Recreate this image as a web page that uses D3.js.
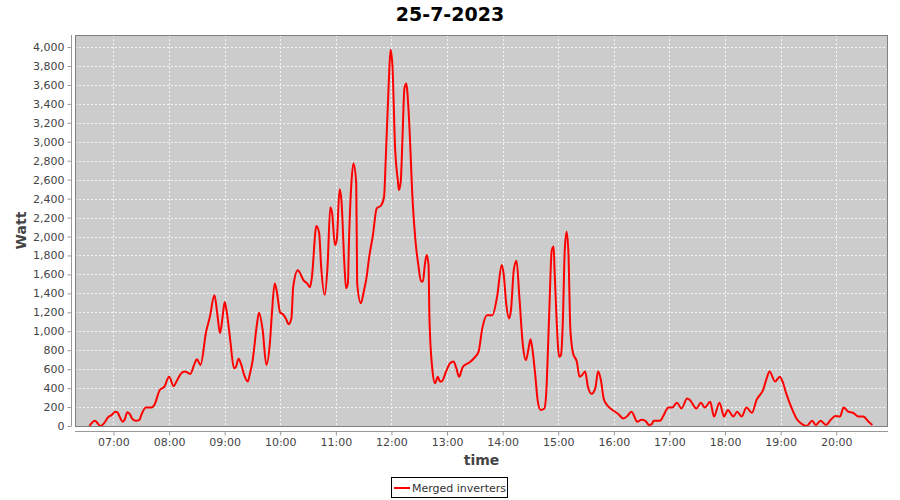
<!DOCTYPE html>
<html>
<head>
<meta charset="utf-8">
<script src="https://cdn.jsdelivr.net/npm/d3@7"></script>
<style>
html,body{margin:0;padding:0;background:#fff;}
svg{display:block;font-family:"DejaVu Sans",sans-serif;}
</style>
</head>
<body>
<svg id="chart" width="900" height="500"></svg>
<script>
const chartTitle = "25-7-2023";
const seriesName = "Merged inverters";
const xAxisLabel = "time";
const yAxisLabel = "Watt";
const dateStr = "2023-07-25";

const times = ["06:34","06:40","06:46","06:51","06:54","06:58","07:02","07:04","07:10","07:12","07:15","07:18","07:20","07:24","07:28","07:30","07:35","07:41","07:44","07:50","07:55","08:00","08:05","08:08","08:13","08:17","08:23","08:27","08:30","08:34","08:40","08:44","08:49","08:52","08:55","08:58","09:00","09:02","09:06","09:10","09:12","09:15","09:18","09:21","09:25","09:27","09:30","09:35","09:37","09:41","09:45","09:49","09:51","09:54","09:56","10:00","10:03","10:06","10:09","10:12","10:14","10:19","10:21","10:25","10:29","10:32","10:34","10:39","10:42","10:44","10:48","10:51","10:54","10:56","10:59","11:01","11:04","11:06","11:09","11:11","11:13","11:14","11:17","11:19","11:22","11:23","11:27","11:30","11:33","11:36","11:40","11:44","11:49","11:52","11:54","11:57","11:59","12:01","12:04","12:07","12:08","12:10","12:12","12:14","12:16","12:17","12:19","12:23","12:26","12:29","12:32","12:34","12:36","12:38","12:40","12:41","12:44","12:47","12:50","12:52","12:54","12:59","13:03","13:07","13:10","13:13","13:17","13:24","13:29","13:34","13:38","13:43","13:49","13:54","13:59","14:01","14:04","14:07","14:09","14:12","14:15","14:18","14:22","14:25","14:28","14:30","14:32","14:35","14:38","14:41","14:45","14:47","14:50","14:53","14:55","14:56","14:58","15:01","15:03","15:05","15:07","15:09","15:11","15:13","15:16","15:20","15:23","15:26","15:29","15:32","15:36","15:40","15:43","15:46","15:49","15:52","15:57","16:05","16:10","16:14","16:19","16:23","16:25","16:30","16:34","16:38","16:41","16:43","16:50","16:53","16:59","17:03","17:08","17:13","17:19","17:22","17:29","17:34","17:38","17:44","17:48","17:54","17:59","18:03","18:09","18:13","18:18","18:23","18:29","18:34","18:41","18:45","18:48","18:54","18:59","19:02","19:06","19:12","19:17","19:23","19:28","19:34","19:38","19:43","19:49","19:54","19:59","20:04","20:08","20:13","20:18","20:24","20:29","20:35","20:39"];

const watts = [0,55,0,45,90,115,150,145,45,65,145,120,80,55,65,115,195,195,220,380,415,520,420,470,555,575,550,645,705,645,995,1150,1380,1190,980,1170,1310,1220,910,610,620,710,645,540,470,540,680,1085,1195,1015,645,900,1190,1505,1435,1195,1180,1135,1075,1135,1470,1645,1620,1540,1505,1465,1560,2110,2035,1700,1385,1680,2310,2245,1910,1965,2500,2385,1750,1455,1505,1895,2595,2770,2560,1505,1295,1415,1560,1785,2015,2295,2330,2420,2860,3600,3970,3810,2915,2580,2490,2580,3070,3565,3615,3545,3230,2350,1945,1700,1525,1525,1700,1805,1700,1135,610,450,520,475,470,575,660,680,610,520,625,670,715,785,1030,1170,1170,1365,1700,1610,1275,1135,1225,1645,1745,1365,835,695,820,915,820,555,255,170,185,345,1120,1855,1895,1645,1170,730,750,1120,1855,2050,1820,1030,765,680,520,540,575,415,340,400,575,485,290,230,180,125,80,100,150,80,45,65,55,10,20,55,55,100,195,195,245,185,290,275,185,245,195,255,100,245,100,170,100,150,100,195,140,275,380,505,575,470,520,470,345,185,80,20,0,55,10,55,10,65,105,100,195,150,140,100,100,45,10];

const yTicks = [0,200,400,600,800,1000,1200,1400,1600,1800,2000,2200,2400,2600,2800,3000,3200,3400,3600,3800,4000];
const xTickLabels = ["07:00","08:00","09:00","10:00","11:00","12:00","13:00","14:00","15:00","16:00","17:00","18:00","19:00","20:00"];
const xDomain = ["06:18:30","20:55:50"];
const yMax = 4127;

const parse = s => new Date(dateStr + "T" + (s.length === 5 ? s + ":00" : s));
const data = times.map((t, i) => ({t: parse(t), v: watts[i]}));

const svg = d3.select("#chart");
const L = 75, R = 888, T = 35, B = 426;

const x = d3.scaleTime().domain(xDomain.map(parse)).range([L, R]);
const y = d3.scaleLinear().domain([0, yMax]).range([B, T]);

// title
svg.append("text").attr("x", 450).attr("y", 21).attr("text-anchor", "middle")
  .attr("font-size", 19).attr("font-weight", "bold").attr("fill", "#000").text(chartTitle);

// plot background
svg.append("rect").attr("x", L).attr("y", T).attr("width", R - L).attr("height", B - T)
  .attr("fill", "#cccccc");

// grid
const grid = svg.append("g");
const xTickDates = xTickLabels.map(parse);
grid.selectAll("line.v").data(xTickDates).enter().append("line")
  .attr("x1", d => Math.round(x(d)) + 0.5).attr("x2", d => Math.round(x(d)) + 0.5)
  .attr("y1", T).attr("y2", B).attr("stroke", "#f4f4f4").attr("stroke-width", 1)
  .attr("stroke-dasharray", "2,2");
grid.selectAll("line.h").data(yTicks.filter(d => d > 0)).enter().append("line")
  .attr("y1", d => Math.round(y(d)) + 0.5).attr("y2", d => Math.round(y(d)) + 0.5)
  .attr("x1", L).attr("x2", R).attr("stroke", "#f4f4f4").attr("stroke-width", 1)
  .attr("stroke-dasharray", "2,2");

// line
const line = d3.line().x(d => x(d.t)).y(d => y(d.v)).curve(d3.curveMonotoneX);
svg.append("path").datum(data).attr("d", line).attr("fill", "none")
  .attr("stroke", "#ff0000").attr("stroke-width", 2).attr("stroke-linejoin", "round");

// plot border
svg.append("rect").attr("x", L + 0.5).attr("y", T + 0.5).attr("width", R - L - 1).attr("height", B - T)
  .attr("fill", "none").attr("stroke", "#808080").attr("stroke-width", 1);

// y axis
const yAxis = d3.axisLeft(y).tickValues(yTicks).tickSize(4).tickPadding(3)
  .tickFormat(d3.format(","));
const gy = svg.append("g").attr("transform", "translate(71.5,0)").call(yAxis);
gy.select(".domain").attr("d", `M0,${T}V${B}`).attr("stroke", "#999");
gy.selectAll(".tick line").attr("stroke", "#999");
gy.selectAll(".tick text").attr("font-size", 11).attr("fill", "#444")
  .attr("font-family", "DejaVu Sans, sans-serif");

// x axis
const xAxis = d3.axisBottom(x).tickValues(xTickDates).tickSize(4).tickPadding(3)
  .tickFormat(d3.timeFormat("%H:%M"));
const gx = svg.append("g").attr("transform", "translate(0,431.5)").call(xAxis);
gx.select(".domain").attr("d", `M${L},0H${R}`).attr("stroke", "#999");
gx.selectAll(".tick line").attr("stroke", "#999");
gx.selectAll(".tick text").attr("font-size", 11).attr("fill", "#444")
  .attr("font-family", "DejaVu Sans, sans-serif");

// axis labels
svg.append("text").attr("x", (L + R) / 2).attr("y", 465).attr("text-anchor", "middle")
  .attr("font-size", 14).attr("font-weight", "bold").attr("fill", "#444").text(xAxisLabel);
svg.append("text").attr("transform", `translate(26,${(T + B) / 2}) rotate(-90)`)
  .attr("text-anchor", "middle").attr("font-size", 14).attr("font-weight", "bold")
  .attr("fill", "#444").text(yAxisLabel);

// legend
const lg = svg.append("g");
lg.append("rect").attr("x", 391.5).attr("y", 477.5).attr("width", 116).attr("height", 20)
  .attr("fill", "#fff").attr("stroke", "#000").attr("stroke-width", 1);
lg.append("line").attr("x1", 394).attr("x2", 410).attr("y1", 488).attr("y2", 488)
  .attr("stroke", "#ff0000").attr("stroke-width", 2);
lg.append("text").attr("x", 412).attr("y", 492).attr("font-size", 11).attr("fill", "#333")
  .text(seriesName);
</script>
</body>
</html>
